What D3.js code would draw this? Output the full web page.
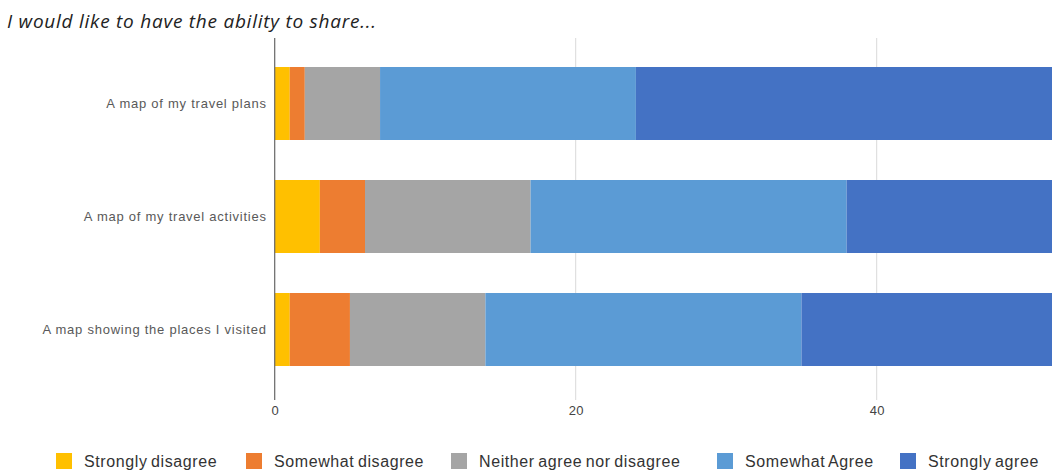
<!DOCTYPE html>
<html>
<head>
<meta charset="utf-8">
<script src="https://cdn.jsdelivr.net/npm/d3@7/dist/d3.min.js"></script>
<style>
  html, body { margin: 0; padding: 0; background: #fff; }
  svg { display: block; }
</style>
</head>
<body>
<svg id="chart" width="1052" height="472"></svg>
<script>
// Survey statements and responses (counts of respondents)
const categories = [
  "A map of my travel plans",
  "A map of my travel activities",
  "A map showing the places I visited"
];
const responseLevels = [
  "Strongly disagree",
  "Somewhat disagree",
  "Neither agree nor disagree",
  "Somewhat Agree",
  "Strongly agree"
];
const stronglyDisagree = [1, 3, 1];
const somewhatDisagree = [1, 3, 4];
const neutral = [5, 11, 9];
const somewhatAgree = [17, 21, 21];
const stronglyAgree = [31, 17, 20];
const xTicks = [0, 20, 40];
const colors = ["#FFC000", "#ED7D31", "#A5A5A5", "#5B9BD5", "#4472C4"];

const seriesValues = [stronglyDisagree, somewhatDisagree, neutral, somewhatAgree, stronglyAgree];
const rows = categories.map((c, i) => {
  const r = { category: c };
  responseLevels.forEach((lvl, j) => { r[lvl] = seriesValues[j][i]; });
  return r;
});

const svg = d3.select("#chart");
const plotLeft = 274.7, plotTop = 47, plotBottom = 386;

const x = d3.scaleLinear().domain([0, 60]).range([plotLeft, plotLeft + 60 * 15.05]);
const y = d3.scaleBand().domain(categories).range([plotTop, plotBottom]).paddingInner(0.354).paddingOuter(0.177);

const stack = d3.stack().keys(responseLevels)(rows);

// Title
svg.append("text")
  .attr("x", 7).attr("y", 28)
  .attr("font-family", "Open Sans")
  .attr("font-style", "italic")
  .attr("font-size", 19)
  .attr("letter-spacing", 0.75)
  .attr("fill", "#222")
  .text("I would like to have the ability to share...");

// Vertical gridlines
svg.append("g").selectAll("line")
  .data(xTicks.filter(t => t !== 0))
  .join("line")
  .attr("x1", d => x(d)).attr("x2", d => x(d))
  .attr("y1", 38).attr("y2", 400)
  .attr("stroke", "#d9d9d9").attr("stroke-width", 1);

// Stacked bars
const g = svg.append("g");
stack.forEach((layer, j) => {
  g.append("g").attr("fill", colors[j])
    .selectAll("rect")
    .data(layer)
    .join("rect")
    .attr("x", d => x(d[0]))
    .attr("y", d => y(d.data.category))
    .attr("width", d => x(d[1]) - x(d[0]))
    .attr("height", y.bandwidth());
});

// Baseline axis
svg.append("line")
  .attr("x1", x(0)).attr("x2", x(0))
  .attr("y1", 38).attr("y2", 400)
  .attr("stroke", "#666").attr("stroke-width", 1.2);

// X tick labels
const xAxis = d3.axisBottom(x).tickValues(xTicks).tickSize(0).tickPadding(0);
const xg = svg.append("g").attr("transform", `translate(0, 406)`).call(xAxis);
xg.select(".domain").remove();
xg.selectAll("text")
  .attr("font-family", "Liberation Sans, Arial, sans-serif")
  .attr("font-size", 13)
  .attr("letter-spacing", 0.3)
  .attr("fill", "#444")
  .attr("dy", "0.71em");

// Category labels
const yAxis = d3.axisLeft(y).tickSize(0).tickPadding(8);
const yg = svg.append("g").attr("transform", `translate(${x(0)},0)`).call(yAxis);
yg.select(".domain").remove();
yg.selectAll("text")
  .attr("font-family", "Liberation Sans, Arial, sans-serif")
  .attr("font-size", 13)
  .attr("letter-spacing", 0.75)
  .attr("fill", "#595959");

// Legend
const legendX = [56, 246, 451, 717, 900];
const legend = svg.append("g");
responseLevels.forEach((lvl, j) => {
  const item = legend.append("g").attr("transform", `translate(${legendX[j]}, 461)`);
  item.append("rect")
    .attr("x", 0).attr("y", -8)
    .attr("width", 16).attr("height", 16)
    .attr("fill", colors[j]);
  item.append("text")
    .attr("x", 28).attr("y", 0)
    .attr("dy", "0.35em")
    .attr("font-family", "Liberation Sans, Arial, sans-serif")
    .attr("font-size", 16)
    .attr("letter-spacing", 0.6)
    .attr("word-spacing", -1.5)
    .attr("fill", "#333")
    .text(lvl);
});
</script>
</body>
</html>
